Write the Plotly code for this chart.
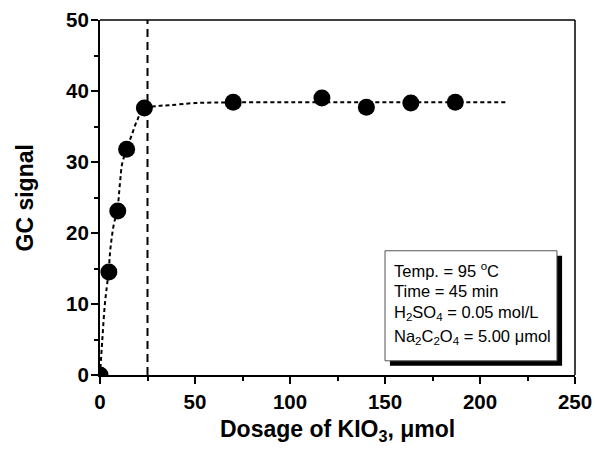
import plotly.graph_objects as go

# Measured data
dosage = [0, 4.67, 9.35, 14.02, 23.37, 70.1, 116.8, 140.2, 163.6, 187.0]
gc_signal = [0, 14.5, 23.1, 31.8, 37.6, 38.4, 39.0, 37.7, 38.3, 38.4]

# Fit curve
fit_x = [0, 1.2, 2.6, 4.5, 5.6, 7.4, 9.0, 10.5, 11.7, 14.0, 16.7, 19.3, 22.8, 30.7, 36.8, 50, 70, 100, 150, 214]
fit_y = [0, 4.9, 10.1, 14.5, 18.1, 21.4, 23.0, 27.0, 29.8, 31.8, 33.8, 35.7, 37.4, 37.9, 38.0, 38.3, 38.4, 38.4, 38.4, 38.4]

optimum_x = 25
x_ticks = [0, 50, 100, 150, 200, 250]
y_ticks = [0, 10, 20, 30, 40, 50]

conditions = [
    "Temp. = 95 <sup>o</sup>C",
    "Time = 45 min",
    "H<sub>2</sub>SO<sub>4</sub> = 0.05 mol/L",
    "Na<sub>2</sub>C<sub>2</sub>O<sub>4</sub> = 5.00 μmol",
]

FONT = "Arial"

fig = go.Figure()

fig.add_trace(go.Scatter(
    x=[optimum_x, optimum_x], y=[0, 50], mode="lines",
    line=dict(color="black", width=2, dash="8px,5px"),
    showlegend=False, hoverinfo="skip"))

fig.add_trace(go.Scatter(
    x=fit_x, y=fit_y, mode="lines", line_shape="spline",
    line=dict(color="black", width=2, dash="4px,3px"),
    showlegend=False))

fig.add_trace(go.Scatter(
    x=dosage, y=gc_signal, mode="markers",
    marker=dict(color="black", size=17, symbol="circle"),
    showlegend=False))

# Conditions box with shadow (data coordinates)
fig.add_shape(type="rect", xref="x", yref="y", x0=152.6, x1=243.2, y0=1.3, y1=16.8,
              fillcolor="black", line=dict(width=0), layer="above")
fig.add_shape(type="rect", xref="x", yref="y", x0=150, x1=240.5, y0=2.0, y1=17.5,
              fillcolor="white", line=dict(color="#555555", width=1), layer="above")

line_y = [14.8, 11.8, 8.7, 5.4]
for txt, yy in zip(conditions, line_y):
    fig.add_annotation(x=153.5, y=yy, xref="x", yref="y", text=txt, showarrow=False,
                       xanchor="left", yanchor="middle",
                       font=dict(family=FONT, size=16.5, color="black"))

# Top and right frame lines
fig.add_shape(type="line", xref="paper", yref="paper", x0=0, x1=1, y0=1, y1=1,
              line=dict(color="black", width=1.5))
fig.add_shape(type="line", xref="paper", yref="paper", x0=1, x1=1, y0=0, y1=1,
              line=dict(color="black", width=1.5))

# Axis titles
fig.add_annotation(x=0.5, y=-0.155, xref="paper", yref="paper",
                   text="<b>Dosage of KIO<sub>3</sub>, μmol</b>", showarrow=False,
                   xanchor="center", yanchor="middle",
                   font=dict(family=FONT, size=23, color="black"))
fig.add_annotation(x=-0.158, y=0.5, xref="paper", yref="paper",
                   text="<b>GC signal</b>", showarrow=False, textangle=-90,
                   xanchor="center", yanchor="middle",
                   font=dict(family=FONT, size=23, color="black"))

axis_common = dict(
    showline=True, linewidth=2, linecolor="black", mirror=False,
    showgrid=False, zeroline=False,
    ticks="outside", ticklen=7, tickwidth=2, tickcolor="black",
    tickfont=dict(family=FONT, size=20.5, color="black"),
)

fig.update_xaxes(range=[0, 250], tickvals=x_ticks,
                 ticktext=[f"<b>{v}</b>" for v in x_ticks],
                 minor=dict(dtick=25, tick0=0, ticks="outside", ticklen=4, tickwidth=1.5, tickcolor="black"),
                 **axis_common)
fig.update_yaxes(range=[0, 50], tickvals=y_ticks,
                 ticktext=[f"<b>{v}</b>" for v in y_ticks],
                 ticklabelstandoff=-2,
                 minor=dict(dtick=5, tick0=0, ticks="outside", ticklen=4, tickwidth=1.5, tickcolor="black"),
                 **axis_common)

fig.update_layout(
    width=595, height=449,
    margin=dict(l=100, r=20, t=20, b=74, autoexpand=False),
    paper_bgcolor="white", plot_bgcolor="white",
    font=dict(family=FONT, color="black"),
    showlegend=False,
)

fig.write_html("out.html", config={"displayModeBar": False},
               post_script="document.body.style.margin='0';document.body.style.overflow='hidden';")
